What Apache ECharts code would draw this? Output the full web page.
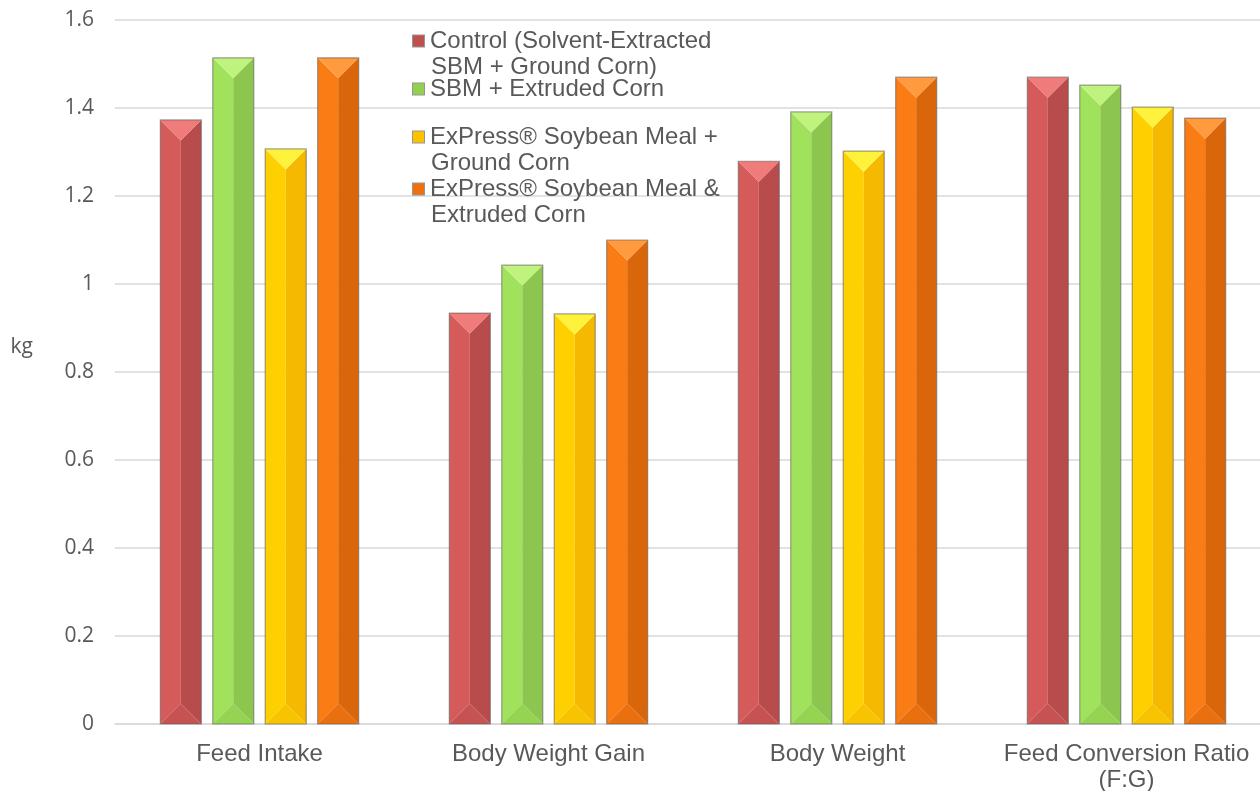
<!DOCTYPE html>
<html>
<head>
<meta charset="utf-8">
<script src="https://cdn.jsdelivr.net/npm/echarts@6/dist/echarts.min.js"></script>
<style>
  html, body { margin: 0; padding: 0; background: #fff; }
  #chart { width: 1260px; height: 791px; }
</style>
</head>
<body>
<div id="chart"></div>
<script>
const categories = ['Feed Intake', 'Body Weight Gain', 'Body Weight', 'Feed Conversion Ratio\n(F:G)'];
const seriesNames = [
  'Control (Solvent-Extracted\nSBM + Ground Corn)',
  'SBM + Extruded Corn',
  'ExPress® Soybean Meal +\nGround Corn',
  'ExPress® Soybean Meal &\nExtruded Corn'
];
const controlValues = [1.373, 0.934, 1.279, 1.470];
const sbmExtrudedValues = [1.514, 1.043, 1.391, 1.452];
const expressGroundValues = [1.307, 0.932, 1.302, 1.402];
const expressExtrudedValues = [1.514, 1.100, 1.470, 1.377];
const yTicks = [0, 0.2, 0.4, 0.6, 0.8, 1, 1.2, 1.4, 1.6];

// left face, right face, top, bottom
const palettes = [
  { left: '#d55a5a', right: '#b84b4b', top: '#f07b7b', bottom: '#c65252', main: '#c0504d' },
  { left: '#a0e25c', right: '#8cc64f', top: '#c0f27e', bottom: '#94d452', main: '#92d050' },
  { left: '#ffd000', right: '#f4b900', top: '#fff23c', bottom: '#f8c300', main: '#ffc000' },
  { left: '#f97c14', right: '#d9660b', top: '#ff9b3e', bottom: '#e96f0f', main: '#f07010' }
];
const allValues = [controlValues, sbmExtrudedValues, expressGroundValues, expressExtrudedValues];

const chart = echarts.init(document.getElementById('chart'));

function makeRender(idx) {
  const pal = palettes[idx];
  return function (params, api) {
    const cat = api.value(0);
    const val = api.value(1);
    const band = api.size([1, 0])[0];
    const barW = band * 0.142;
    const step = band * 0.1815;
    const groupW = step * 3 + barW;
    const center = api.coord([cat, 0]);
    const topPt = api.coord([cat, val]);
    const x0 = center[0] - groupW / 2 + step * idx;
    const x1 = x0 + barW;
    const xm = (x0 + x1) / 2;
    const yb = center[1];
    const yt = topPt[1];
    const h = Math.min(barW / 2, (yb - yt) / 2);
    return {
      type: 'group',
      children: [
        { type: 'polygon', shape: { points: [[x0, yt], [xm, yt + h], [xm, yb - h], [x0, yb]] }, style: { fill: pal.left } },
        { type: 'polygon', shape: { points: [[x1, yt], [xm, yt + h], [xm, yb - h], [x1, yb]] }, style: { fill: pal.right } },
        { type: 'polygon', shape: { points: [[x0, yt], [x1, yt], [xm, yt + h]] }, style: { fill: pal.top } },
        { type: 'polygon', shape: { points: [[x0, yb], [x1, yb], [xm, yb - h]] }, style: { fill: pal.bottom } },
        { type: 'rect', shape: { x: x0, y: yt, width: barW, height: yb - yt }, style: { fill: 'none', stroke: 'rgba(90,90,90,0.55)', lineWidth: 1.2 } }
      ]
    };
  };
}

const legendTops = [24, 72, 120, 172];

function legendFor(i) {
  const pal = palettes[i];
  return {
    top: legendTops[i],
    left: 403,
    orient: 'vertical',
    icon: 'none',
    itemWidth: 0,
    itemHeight: 0,
    selectedMode: false,
    data: [seriesNames[i]],
    formatter: function (name) {
      const lines = name.split('\n');
      return lines.map(function (l, k) {
        return (k === 0 ? '{sq|}{gap|}' : '{sp|}') + '{t|' + l + '}';
      }).join('\n');
    },
    textStyle: {
      rich: {
        sq: { width: 11, height: 11, backgroundColor: pal.main, borderColor: 'rgba(80,80,80,0.6)', borderWidth: 1, lineHeight: 26 },
        gap: { width: 6, lineHeight: 26 },
        sp: { width: 18, lineHeight: 26 },
        t: { fontFamily: 'Liberation Sans', fontSize: 24, color: '#595959', lineHeight: 26 }
      }
    }
  };
}

const series = allValues.map(function (vals, i) {
  return {
    name: seriesNames[i],
    type: 'custom',
    renderItem: makeRender(i),
    itemStyle: { color: palettes[i].main },
    encode: { x: 0, y: 1 },
    data: vals.map(function (v, k) { return [k, v]; })
  };
});

chart.setOption({
  animation: false,
  grid: { left: 115, right: -11, top: 20, bottom: 67, outerBoundsMode: 'none', containLabel: false },
  legend: [legendFor(0), legendFor(1), legendFor(2), legendFor(3)],
  xAxis: {
    type: 'category',
    data: categories,
    axisLine: { lineStyle: { color: '#d9d9d9', width: 1.5 } },
    axisTick: { show: false },
    axisLabel: {
      fontFamily: 'Liberation Sans',
      fontSize: 24,
      color: '#595959',
      lineHeight: 26,
      margin: 17,
      interval: 0
    }
  },
  yAxis: {
    type: 'value',
    min: 0,
    max: 1.6,
    interval: 0.2,
    name: 'kg',
    nameLocation: 'middle',
    nameRotate: 0,
    nameGap: 82,
    nameTextStyle: { fontFamily: 'Open Sans', fontSize: 21, color: '#595959', verticalAlign: 'bottom', lineHeight: 50 },
    axisLine: { show: false },
    axisTick: { show: false },
    splitLine: { lineStyle: { color: '#d9d9d9', width: 1.5 } },
    axisLabel: {
      fontFamily: 'Open Sans',
      fontSize: 21,
      color: '#595959',
      margin: 21,
      formatter: function (v) {
        const t = yTicks.find(function (x) { return Math.abs(x - v) < 1e-6; });
        return t === undefined ? '' : String(t);
      }
    }
  },
  series: series
});
</script>
</body>
</html>
